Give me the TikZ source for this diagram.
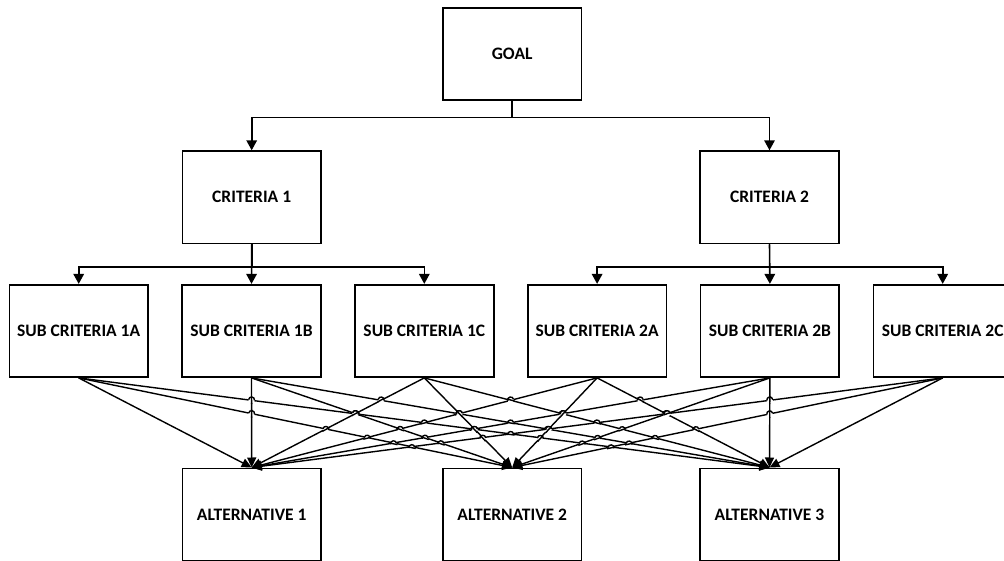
\documentclass[tikz,border=0pt]{standalone}
\usepackage{fontspec}
\setmainfont{Carlito}
\usetikzlibrary{arrows.meta}

% box centres (x) of the sub-criteria and alternatives rows
\def\SX{{78.7,251.5,424.3,597.1,769.9,942.7}}
\def\AX{{251.7,512.2,769.5}}

\begin{document}
\begin{tikzpicture}[x=1pt,y=1pt,
  box/.style={draw, line width=1.7pt, minimum width=138.7pt, minimum height=92.3pt,
              inner sep=0pt, font=\bfseries\fontsize{17.5}{20}\selectfont},
  conn/.style={line width=1.6pt, -{Triangle[length=10pt,width=10.5pt]}},
  link/.style={line width=1.4pt, -{Triangle[length=10pt,width=9pt]}},
  seg/.style={line width=1.4pt},
]
\useasboundingbox (0,0) rectangle (1004,-561);

% hierarchy boxes
\node[box] (goal) at (512.2,-54.2) {GOAL};
\node[box] (c1) at (251.7,-197.3) {CRITERIA 1};
\node[box] (c2) at (769.5,-197.3) {CRITERIA 2};
\foreach \k/\lab in {0/1A,1/1B,2/1C,3/2A,4/2B,5/2C}{
  \pgfmathsetmacro\xx{\SX[\k]}
  \node[box] (s\k) at (\xx,-330.9) {SUB CRITERIA \lab};
}
\foreach \m in {0,1,2}{
  \pgfmathsetmacro\xx{\AX[\m]}
  \pgfmathtruncatemacro\nn{\m+1}
  \node[box] (a\m) at (\xx,-514.5) {ALTERNATIVE \nn};
}

% tree connectors
\coordinate (b0) at (512.2,-117.7);
\coordinate (b1) at (251.7,-267.3);
\coordinate (b2) at (769.5,-267.3);
\draw[conn] (goal.south) -- (b0) -| (c1.north);
\draw[conn] (goal.south) -- (b0) -| (c2.north);
\draw[conn] (c1.south) -- (b1) -| (s0.north);
\draw[conn] (c1.south) -- (s1.north);
\draw[conn] (c1.south) -- (b1) -| (s2.north);
\draw[conn] (c2.south) -- (b2) -| (s3.north);
\draw[conn] (c2.south) -- (s4.north);
\draw[conn] (c2.south) -- (b2) -| (s5.north);

% every sub-criterion linked to every alternative
\foreach \k in {0,...,5}{
  \foreach \m in {0,1,2}{
    \draw[link] (s\k.south) -- (a\m.north);
  }
}

% line jumps: at each crossing the flatter line hops over the steeper one
\foreach \i in {0,...,17}{
  \foreach \j in {0,...,17}{
    \ifnum\j>\i
      \pgfmathtruncatemacro\ki{int(\i/3)}
      \pgfmathtruncatemacro\mi{mod(\i,3)}
      \pgfmathtruncatemacro\kj{int(\j/3)}
      \pgfmathtruncatemacro\mj{mod(\j,3)}
      \pgfmathsetmacro\xi{\SX[\ki]}
      \pgfmathsetmacro\xj{\SX[\kj]}
      \pgfmathsetmacro\dxi{\AX[\mi]-\xi}
      \pgfmathsetmacro\dxj{\AX[\mj]-\xj}
      \pgfmathsetmacro\den{\dxi-(\dxj)}
      \pgfmathtruncatemacro\okd{abs(\den)>0.5 ? 1 : 0}
      \ifnum\okd=1
        \pgfmathsetmacro\tt{(\xj-\xi)/(\den)}
        \pgfmathtruncatemacro\okt{((\tt>0.02) && (\tt<0.97)) ? 1 : 0}
        \ifnum\okt=1
          \pgfmathtruncatemacro\hi{abs(\dxi)>=abs(\dxj) ? 1 : 0}
          \ifnum\hi=1 \let\dH\dxi \let\dO\dxj \else \let\dH\dxj \let\dO\dxi \fi
          \pgfmathsetmacro\px{\xi+\tt*(\dxi)}
          \pgfmathsetmacro\py{-377-92*\tt}
          \pgfmathsetmacro\lh{veclen(\dH,92)}
          \pgfmathsetmacro\ux{abs(\dH)/\lh}
          \pgfmathsetmacro\uy{-92*sign(\dH)/\lh}
          \pgfmathsetmacro\lo{veclen(\dO,92)}
          \pgfmathsetmacro\vx{(\dO)/\lo}
          \pgfmathsetmacro\vy{-92/\lo}
          \pgfmathsetmacro\Ax{\px-3*(\ux)}
          \pgfmathsetmacro\Ay{\py-3*(\uy)}
          \pgfmathsetmacro\Bx{\px+3*(\ux)}
          \pgfmathsetmacro\By{\py+3*(\uy)}
          \pgfmathsetmacro\Cx{\Ax-4*(\uy)}
          \pgfmathsetmacro\Cy{\Ay+4*(\ux)}
          \pgfmathsetmacro\Dx{\Bx-4*(\uy)}
          \pgfmathsetmacro\Dy{\By+4*(\ux)}
          \fill[white] (\px,\py) circle (3.2);
          \draw[seg] ({\px-4*(\vx)},{\py-4*(\vy)}) -- ({\px+4*(\vx)},{\py+4*(\vy)});
          \draw[seg] (\Ax,\Ay) .. controls (\Cx,\Cy) and (\Dx,\Dy) .. (\Bx,\By);
        \fi
      \fi
    \fi
  }
}
\end{tikzpicture}
\end{document}
